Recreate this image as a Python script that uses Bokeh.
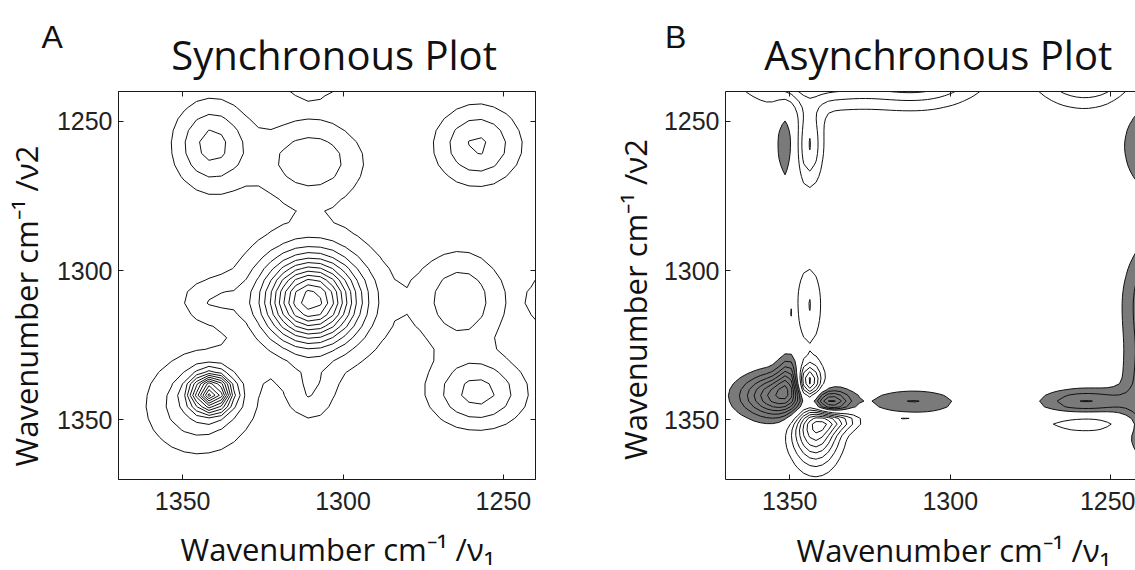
import numpy as np
from math import pi
from bokeh.plotting import figure
from bokeh.models import Range1d, FixedTicker, LinearAxis, Label
from bokeh.layouts import row, column
from bokeh.embed import file_html
from bokeh.resources import INLINE

# ---------------- data ----------------
ticks = [1250, 1300, 1350]
x_span_A = [1370, 1240]
x_span_B = [1370, 1242.3]
y_span = [1370, 1240]

# Synchronous map: auto peaks (on diagonal) and cross peaks (mirrored)
sync_auto_x = [1310, 1310, 1341, 1345, 1258]
sync_auto_y = [1310, 1310, 1341, 1345, 1258]
sync_auto_amp = [11.0, 1.8, 11.0, 3.0, 3.2]
sync_auto_sx = [9.5, 19.0, 4.0, 11.0, 9.0]
sync_auto_sy = [9.5, 19.0, 4.0, 11.0, 9.0]

sync_cross_x = [1341, 1310, 1341, 1310]
sync_cross_y = [1258, 1263, 1310, 1232]
sync_cross_amp = [3.4, 2.8, 1.6, 2.5]
sync_cross_sx = [8.0, 11.0, 7.0, 8.0]
sync_cross_sy = [10.0, 9.0, 5.0, 7.0]

sync_levels = [1, 2, 3, 4, 5, 6, 7, 8, 9, 10, 11, 12, 13]

# Asynchronous map: negative (grey) features; antisymmetric counterparts mirrored
async_x = [1351, 1350, 1338, 1311.5, 1258, 1351, 1350, 1232, 1232, 1232]
async_y = [1342, 1335, 1344.5, 1344, 1344, 1257, 1314, 1258, 1310, 1343]
async_amp = [-7.5, -3.0, -7.0, -2.05, -3.08, -1.8, -1.6, -4.5, -4.9, -5.0]
async_sx = [9.0, 2.5, 4.3, 10.0, 9.5, 2.5, 1.0, 7.9, 7.9, 7.9]
async_sy = [5.0, 5.0, 2.8, 3.0, 3.0, 11.0, 4.5, 10.0, 13.0, 14.0]

async_levels = [-8, -7, -6, -5, -4, -3, -2, -1, 1, 2, 3, 4, 5, 6, 7, 8]

GREY = "#7a7a7a"
INK = "#111111"


def peaks(X, Y, px, py, amp, sx, sy):
    Z = np.zeros_like(X)
    for x0, y0, a, s1, s2 in zip(px, py, amp, sx, sy):
        Z += a * np.exp(-((X - x0) ** 2 / (2 * s1 ** 2) + (Y - y0) ** 2 / (2 * s2 ** 2)))
    return Z


# sampling grids
gA = np.arange(1226.0, 1384.0, 3.86)
gB = np.arange(1226.0, 1384.0, 1.93)

XA, YA = np.meshgrid(gA, gA)
ZA = (peaks(XA, YA, sync_auto_x, sync_auto_y, sync_auto_amp, sync_auto_sx, sync_auto_sy)
      + peaks(XA, YA, sync_cross_x, sync_cross_y, sync_cross_amp, sync_cross_sx, sync_cross_sy)
      + peaks(XA, YA, sync_cross_y, sync_cross_x, sync_cross_amp, sync_cross_sy, sync_cross_sx))

XB, YB = np.meshgrid(gB, gB)
ZB = (peaks(XB, YB, async_x, async_y, async_amp, async_sx, async_sy)
      - peaks(XB, YB, async_y, async_x, async_amp, async_sy, async_sx))

X_LABEL = "Wavenumber cm\u207b\u00b9 /\u03bd\u2081"
Y_LABEL = "Wavenumber cm\u207b\u00b9 /\u03bd2"
TITLE_FONT = "Open Sans"


def style_axis(ax, labels=True):
    ax.ticker = FixedTicker(ticks=ticks)
    ax.major_tick_in = 5
    ax.major_tick_out = 0
    ax.minor_tick_line_color = None
    ax.axis_line_color = "#1a1a1a"
    ax.major_tick_line_color = "#1a1a1a"
    ax.major_label_text_font = "Liberation Sans"
    ax.major_label_text_color = "#222222"
    if labels:
        ax.major_label_text_font_size = "25px"
        ax.major_label_standoff = 6
    else:
        ax.major_label_text_font_size = "0px"
        ax.major_label_text_color = None
        ax.major_label_standoff = 0


def make_fig(xr, fw, left, right):
    p = figure(frame_width=fw, frame_height=388,
               x_range=Range1d(*xr), y_range=Range1d(*y_span),
               toolbar_location=None, output_backend="svg",
               min_border_left=left, min_border_right=right,
               min_border_top=9, min_border_bottom=46,
               background_fill_color="white", border_fill_color="white")
    p.grid.visible = False
    style_axis(p.xaxis[0])
    style_axis(p.yaxis[0])
    p.xaxis[0].major_label_standoff = 12
    top = LinearAxis()
    style_axis(top, labels=False)
    p.add_layout(top, "above")
    return p


def text_strip(w, h):
    f = figure(width=w, height=h, x_range=Range1d(0, w), y_range=Range1d(0, h),
               toolbar_location=None, output_backend="svg",
               min_border=0, outline_line_color=None)
    f.axis.visible = False
    f.grid.visible = False
    return f


def add_label(f, text, x, y, font, size, align="left", angle=0.0):
    f.add_layout(Label(x=x, y=y, x_units="screen", y_units="screen", text=text,
                       text_font=font, text_font_size=size, text_color=INK, angle=angle,
                       text_align=align, text_baseline="alphabetic"))


# ---------------- header (panel letters and titles) ----------------
head = text_strip(1135, 82)
add_label(head, "A", 41, 45.4, "Liberation Sans", "32px")
add_label(head, "Synchronous Plot", 333.6, 28.5, TITLE_FONT, "40px", align="center")
add_label(head, "B", 664.5, 45.4, "Liberation Sans", "32px")
add_label(head, "Asynchronous Plot", 937.7, 27.8, TITLE_FONT, "40px", align="center")

# ---------------- footer (x axis titles) ----------------
foot = text_strip(1135, 45)
add_label(foot, X_LABEL, 337, 21.5, TITLE_FONT, "31px", align="center")
add_label(foot, X_LABEL, 953, 20.5, TITLE_FONT, "31px", align="center")

# ---------------- side strips (y axis titles) ----------------
sideA = text_strip(50, 443)
add_label(sideA, Y_LABEL, 25.7, 173.5, TITLE_FONT, "31px", align="center", angle=pi / 2)
sideB = text_strip(95, 443)
add_label(sideB, Y_LABEL, 74.4, 180, TITLE_FONT, "31px", align="center", angle=pi / 2)

# ---------------- panel A ----------------
pA = make_fig(x_span_A, 417, 68, 25)
pA.outline_line_color = "#1a1a1a"
rgt = LinearAxis()
style_axis(rgt, labels=False)
pA.add_layout(rgt, "right")
pA.contour(x=gA, y=gA, z=ZA, levels=sync_levels, line_color=INK, line_width=1.0)

# ---------------- panel B ----------------
pB = make_fig(x_span_B, 410, 70, 0)
pB.outline_line_color = None
pB.contour(x=gB, y=gB, z=ZB, levels=[float(ZB.min()) - 1.0, -1.0],
           fill_color=GREY, line_color=None)
pB.contour(x=gB, y=gB, z=ZB, levels=async_levels, line_color=INK, line_width=1.0)

layout = column(head, row(sideA, pA, sideB, pB), foot)
open("out.html", "w").write(file_html(layout, INLINE))
